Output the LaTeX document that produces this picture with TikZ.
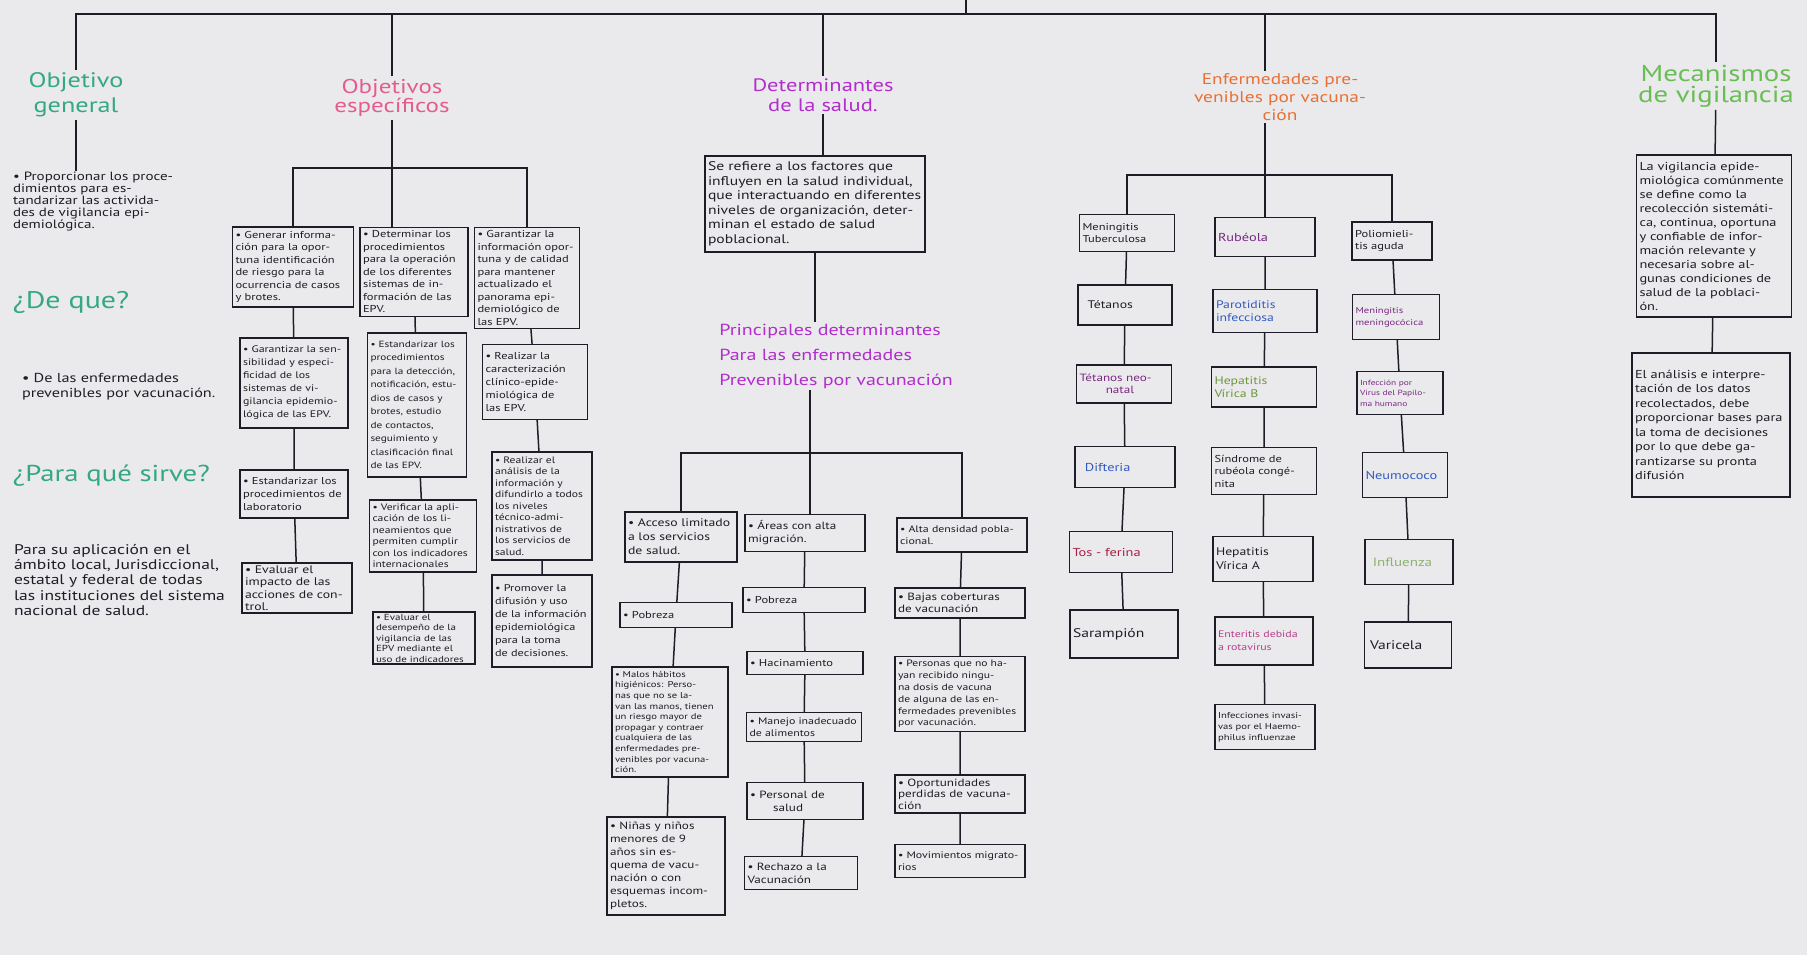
\documentclass[tikz,border=0pt]{standalone}
\usepackage{fontspec}
\setmainfont[FakeStretch=1.25]{PT Sans}
\usepackage{tikz}
\usepackage{xcolor}
\definecolor{paper}{RGB}{234,234,236}
\definecolor{ink}{RGB}{30,28,38}
\definecolor{generalcolor}{RGB}{52,168,128}
\definecolor{especificocolor}{RGB}{228,92,142}
\definecolor{determinantecolor}{RGB}{178,44,206}
\definecolor{enfermedadcolor}{RGB}{232,112,52}
\definecolor{mecanismocolor}{RGB}{104,190,84}
\definecolor{bluetext}{RGB}{50,90,190}
\definecolor{purpletext}{RGB}{120,40,130}
\definecolor{pinktext}{RGB}{185,60,140}
\definecolor{redtext}{RGB}{170,30,70}
\definecolor{olivetext}{RGB}{110,150,60}
\definecolor{lighttext}{RGB}{140,178,110}
\newcommand{\notefont}{\fontsize{10}{12.5}\selectfont}
\newcommand{\sizedfont}[2]{\fontsize{#1}{#2}\selectfont}

\begin{document}
\begin{tikzpicture}[x=1pt,y=-1pt,line width=1.5pt,color=ink]
	\tikzstyle{box}=[draw, line width=1.4pt, inner xsep=3pt, inner ysep=2pt, align=left, font=\notefont]
	\tikzstyle{title}=[align=center, inner sep=2pt]
	\tikzstyle{plain}=[align=left, inner sep=1pt]
	% paper
	\fill[paper] (0,0) rectangle (1807,955);
	\useasboundingbox (0,0) rectangle (1807,955);
	% titles
	\node (og) [title, text=generalcolor, font=\sizedfont{21}{25}] at (76,95) {Objetivo\\general};
	\node (oe) [title, text=especificocolor, font=\sizedfont{20}{18}] at (392,98) {Objetivos\\específicos};
	\node (det) [title, text=determinantecolor, font=\sizedfont{18}{20}] at (823,95) {Determinantes\\de la salud.};
	\node (enf) [title, text=enfermedadcolor, font=\sizedfont{15.5}{18}] at (1280,97) {Enfermedades pre-\\venibles por vacuna-\\ción};
	\node (mec) [title, text=mecanismocolor, font=\sizedfont{23}{21}] at (1716,86) {Mecanismos\\de vigilancia};
	% objetivo general
	\node (ogtext) [plain, text width=172pt, font=\sizedfont{12}{12}] at (99,202) {• Proporcionar los proce-\\ dimientos para es-\\tandarizar las activida-\\des de vigilancia epi-\\demiológica.};
	\node (deque) [plain, anchor=west, text=generalcolor, font=\sizedfont{24}{24}] at (11,302) {¿De que?};
	\node (dequetext) [plain, text width=200pt, font=\sizedfont{13}{15}] at (122,387) {• De las enfermedades\\ prevenibles por vacunación.};
	\node (para) [plain, anchor=west, text=generalcolor, font=\sizedfont{23}{24}] at (11,476) {¿Para qué sirve?};
	\node (paratext) [plain, text width=222pt, font=\sizedfont{14}{15.4}] at (125,580) {Para su aplicación en el\\ámbito local, Jurisdiccional,\\estatal y federal de todas\\las instituciones del sistema\\nacional de salud.};
	% objetivos especificos
	\node (a1) [box, text width=115pt, minimum height=80pt] at (293,267) {• Generar informa-\\ción para la opor-\\tuna identificación\\de riesgo para la\\ocurrencia de casos\\y brotes.};
	\node (a2) [box, text width=102pt, minimum height=90pt, font=\sizedfont{9.5}{13}] at (294,383) {• Garantizar la sen-\\sibilidad y especi-\\ficidad de los\\sistemas de vi-\\gilancia epidemio-\\lógica de las EPV.};
	\node (a3) [box, text width=102pt, minimum height=48pt, font=\sizedfont{10}{13}] at (294,494) {• Estandarizar los\\procedimientos de\\laboratorio};
	\node (a4) [box, text width=104pt, minimum height=50pt, font=\sizedfont{11}{12.5}] at (297,588) {• Evaluar el\\impacto de las\\acciones de con-\\trol.};
	\node (b1) [box, text width=102pt, minimum height=89pt] at (414,272) {• Determinar los\\procedimientos\\para la operación\\de los diferentes\\sistemas de in-\\formación de las\\EPV.};
	\node (b2) [box, text width=93pt, minimum height=144pt, font=\sizedfont{9}{13.5}] at (417,405) {• Estandarizar los\\procedimientos\\para la detección,\\notificación, estu-\\dios de casos y\\brotes, estudio\\de contactos,\\seguimiento y\\clasificación final\\de las EPV.};
	\node (b3) [box, text width=101pt, minimum height=72pt, font=\sizedfont{9.3}{11.5}] at (423,536) {• Verificar la apli-\\cación de los li-\\neamientos que\\permiten cumplir\\con los indicadores\\internacionales};
	\node (b4) [box, text width=96pt, minimum height=50pt, font=\sizedfont{8.8}{10.5}] at (424,638) {• Evaluar el\\desempeño de la\\vigilancia de las\\EPV mediante el\\uso de indicadores};
	\node (c1) [box, text width=99pt, minimum height=101pt] at (527,278) {• Garantizar la\\información opor-\\tuna y de calidad\\para mantener\\actualizado el\\panorama epi-\\demiológico de\\las EPV.};
	\node (c2) [box, text width=99pt, minimum height=75pt, font=\sizedfont{10}{13}] at (535,382) {• Realizar la\\caracterización\\clínico-epide-\\miológica de\\las EPV.};
	\node (c3) [box, text width=94pt, minimum height=108pt, font=\sizedfont{9.3}{11.5}] at (542,506) {• Realizar el\\análisis de la\\información y\\difundirlo a todos\\los niveles\\técnico-admi-\\nistrativos de\\los servicios de\\salud.};
	\node (c4) [box, text width=94pt, minimum height=92pt, font=\sizedfont{9.8}{13}] at (542,621) {• Promover la\\difusión y uso\\de la información\\epidemiológica\\para la toma\\de decisiones.};
	% determinantes de la salud
	\node (d0) [box, text width=214pt, minimum height=96pt, font=\sizedfont{12.5}{14.5}] at (815,204) {Se refiere a los factores que\\influyen en la salud individual,\\que interactuando en diferentes\\niveles de organización, deter-\\minan el estado de salud\\poblacional.};
	\node (sub) [plain, text=determinantecolor, font=\sizedfont{16}{25}] at (836,356) {Principales determinantes\\Para las enfermedades\\Prevenibles por vacunación};
	\node (l1) [box, text width=106pt, minimum height=50pt, font=\sizedfont{11}{14}] at (681,537) {• Acceso limitado\\a los servicios\\de salud.};
	\node (l2) [box, text width=106pt, minimum height=25pt] at (676,615) {• Pobreza};
	\node (l3) [box, text width=110pt, minimum height=110pt, font=\sizedfont{8.5}{10.6}] at (670,722) {• Malos hábitos\\higiénicos: Perso-\\nas que no se la-\\van las manos, tienen\\un riesgo mayor de\\propagar y contraer\\cualquiera de las\\enfermedades pre-\\venibles por vacuna-\\ción.};
	\node (l4) [box, text width=112pt, minimum height=98pt, font=\sizedfont{10.5}{13}] at (666,866) {• Niñas y niños\\menores de 9\\años sin es-\\quema de vacu-\\nación o con\\esquemas incom-\\pletos.};
	\node (m1) [box, text width=114pt, minimum height=37pt, font=\sizedfont{10.5}{13}] at (805,533) {• Áreas con alta\\migración.};
	\node (m2) [box, text width=116pt, minimum height=25pt] at (804,600) {• Pobreza};
	\node (m3) [box, text width=110pt, minimum height=23pt] at (805,663) {• Hacinamiento};
	\node (m4) [box, text width=109pt, minimum height=29pt, font=\sizedfont{9.5}{11.5}] at (804,727) {• Manejo inadecuado\\de alimentos};
	\node (m5) [box, text width=110pt, minimum height=37pt, font=\sizedfont{10.5}{13}] at (805,801) {• Personal de\\\hspace*{2.2em}salud};
	\node (m6) [box, text width=107pt, minimum height=33pt, font=\sizedfont{10.5}{13}] at (801,873) {• Rechazo a la\\Vacunación};
	\node (r1) [box, text width=124pt, minimum height=34pt, font=\sizedfont{9.5}{12.5}] at (962,535) {• Alta densidad pobla-\\cional.};
	\node (r2) [box, text width=124pt, minimum height=30pt, font=\sizedfont{10.5}{12}] at (960,603) {• Bajas coberturas\\de vacunación};
	\node (r3) [box, text width=124pt, minimum height=75pt, font=\sizedfont{9.3}{11.8}] at (960,694) {• Personas que no ha-\\yan recibido ningu-\\na dosis de vacuna\\de alguna de las en-\\fermedades prevenibles\\por vacunación.};
	\node (r4) [box, text width=124pt, minimum height=38pt, font=\sizedfont{10.5}{11.5}] at (960,794) {• Oportunidades\\perdidas de vacuna-\\ción};
	\node (r5) [box, text width=124pt, minimum height=33pt, font=\sizedfont{9.5}{12.5}] at (960,861) {• Movimientos migrato-\\rios};
	% enfermedades prevenibles
	\node (e1) [box, text width=89pt, minimum height=37pt, font=\sizedfont{10}{12.5}] at (1127,233) {Meningitis\\Tuberculosa};
	\node (e2) [box, text width=88pt, minimum height=40pt, font=\sizedfont{11}{13}] at (1125,305) {\hspace*{0.6em}Tétanos};
	\node (e3) [box, text width=89pt, minimum height=38pt, font=\sizedfont{10.5}{12}, text=purpletext] at (1124,384) {Tétanos neo-\\\hspace*{2.5em}natal};
	\node (e4) [box, text width=94pt, minimum height=41pt, font=\sizedfont{11.5}{13}, text=bluetext] at (1125,467) {\hspace*{0.6em}Difteria};
	\node (e5) [box, text width=97pt, minimum height=41pt, font=\sizedfont{11.5}{13}, text=redtext] at (1121,552) {Tos - ferina};
	\node (e6) [box, text width=102pt, minimum height=48pt, font=\sizedfont{12.5}{14}] at (1124,634) {Sarampión};
	\node (f1) [box, text width=94pt, minimum height=39pt, font=\sizedfont{11.5}{13}, text=purpletext] at (1265,237) {Rubéola};
	\node (f2) [box, text width=98pt, minimum height=43pt, font=\sizedfont{11}{13.5}, text=bluetext] at (1265,311) {Parotiditis\\infecciosa};
	\node (f3) [box, text width=99pt, minimum height=40pt, font=\sizedfont{11}{13.5}, text=olivetext] at (1264,387) {Hepatitis\\Vírica B};
	\node (f4) [box, text width=99pt, minimum height=47pt, font=\sizedfont{10}{12.5}] at (1264,471) {Síndrome de\\rubéola congé-\\nita};
	\node (f5) [box, text width=94pt, minimum height=45pt, font=\sizedfont{11}{14}] at (1263,559) {Hepatitis\\Vírica A};
	\node (f6) [box, text width=92pt, minimum height=48pt, font=\sizedfont{9.5}{13}, text=pinktext] at (1264,641) {Enteritis debida\\a rotavirus};
	\node (f7) [box, text width=94pt, minimum height=45pt, font=\sizedfont{8.5}{11}] at (1265,727) {Infecciones invasi-\\vas por el Haemo-\\philus influenzae};
	\node (g1) [box, text width=74pt, minimum height=38pt, font=\sizedfont{10}{12.5}] at (1392,241) {Poliomieli-\\tis aguda};
	\node (g2) [box, text width=81pt, minimum height=45pt, font=\sizedfont{8.5}{12}, text=purpletext] at (1396,317) {Meningitis\\meningocócica};
	\node (g3) [box, text width=80pt, minimum height=43pt, font=\sizedfont{7.5}{10.5}, text=purpletext] at (1400,393) {Infección por\\Virus del Papilo-\\ma humano};
	\node (g4) [box, text width=79pt, minimum height=45pt, font=\sizedfont{11.5}{14}, text=bluetext] at (1405,475) {Neumococo};
	\node (g5) [box, text width=82pt, minimum height=45pt, font=\sizedfont{12}{14}, text=lighttext] at (1409,562) {\hspace*{0.4em}Influenza};
	\node (g6) [box, text width=81pt, minimum height=46pt, font=\sizedfont{12.5}{14}] at (1408,645) {\hspace*{0.2em}Varicela};
	% mecanismos de vigilancia
	\node (h1) [box, text width=149pt, minimum height=162pt, font=\sizedfont{11.5}{14}] at (1714,236) {La vigilancia epide-\\miológica comúnmente\\se define como la\\recolección sistemáti-\\ca, continua, oportuna\\y confiable de infor-\\mación relevante y\\necesaria sobre al-\\gunas condiciones de\\salud de la poblaci-\\ón.};
	\node (h2) [box, text width=152pt, minimum height=144pt, font=\sizedfont{11.5}{14.5}] at (1711,425) {El análisis e interpre-\\tación de los datos\\recolectados, debe\\proporcionar bases para\\la toma de decisiones\\por lo que debe ga-\\rantizarse su pronta\\difusión};
	% main branches
	\coordinate (root) at (966,0);
	\coordinate (rootbar) at (966,14);
	\draw (root) -- (rootbar);
	\draw (og) |- (rootbar) -| (mec);
	\draw (oe) -- (oe |- rootbar);
	\draw (det) -- (det |- rootbar);
	\coordinate (enfbar) at (1265,175);
	\draw (enf.north -| enfbar) -- (enfbar |- rootbar);
	% objetivo general links
	\draw (og) -- (og |- ogtext.north);
	% objetivos especificos links
	\coordinate (oebar) at (392,168);
	\draw (oe) -- (oebar) -- (oebar |- b1.north);
	\draw (a1) |- (oebar) -| (c1);
	\draw (a1) -- (a2) -- (a3) -- (a4);
	\draw (b1) -- (b2) -- (b3) -- (b4);
	\draw (c1) -- (c2) -- (c3) -- (c4);
	% determinantes links
	\draw (det) -- (det |- d0.north);
	\draw (d0) -- (d0 |- sub.north);
	\coordinate (detbar) at (810,453);
	\draw (sub.south -| detbar) -- (detbar) -- (detbar |- m1.north);
	\draw (l1) |- (detbar) -| (r1);
	\draw (l1) -- (l2) -- (l3) -- (l4);
	\draw (m1) -- (m2) -- (m3) -- (m4) -- (m5) -- (m6);
	\draw (r1) -- (r2) -- (r3) -- (r4) -- (r5);
	% enfermedades links
	\draw (enf.south -| enfbar) -- (enfbar) -- (enfbar |- f1.north);
	\draw (e1) |- (enfbar) -| (g1);
	\draw (e1) -- (e2) -- (e3) -- (e4) -- (e5) -- (e6);
	\draw (f1) -- (f2) -- (f3) -- (f4) -- (f5) -- (f6) -- (f7);
	\draw (g1) -- (g2) -- (g3) -- (g4) -- (g5) -- (g6);
	% mecanismos links
	\draw (mec) -- (h1) -- (h2);
\end{tikzpicture}
\end{document}
